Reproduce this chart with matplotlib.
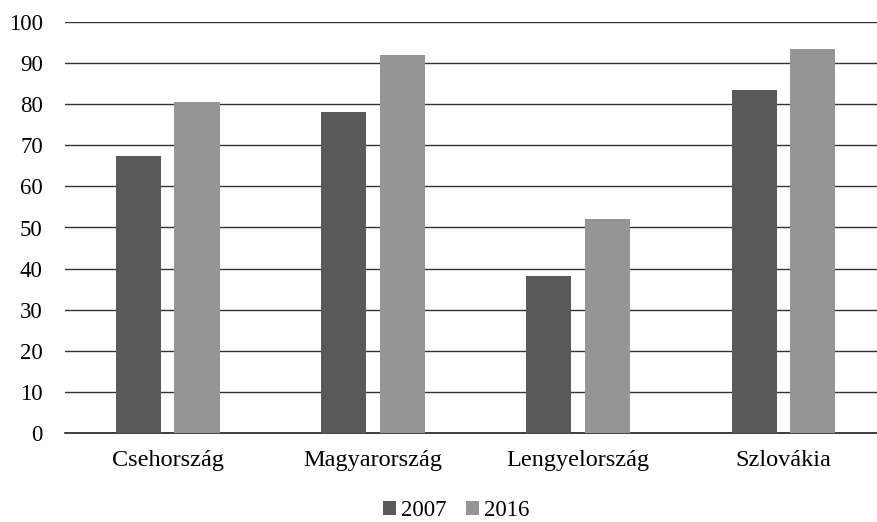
import matplotlib.pyplot as plt
import numpy as np

categories = ["Csehország", "Magyarország", "Lengyelország", "Szlovákia"]
values_2007 = [67.3, 78.2, 38.3, 83.4]
values_2016 = [80.6, 92.0, 52.0, 93.5]
yticks = [0, 10, 20, 30, 40, 50, 60, 70, 80, 90, 100]

plt.rcParams['font.family'] = ['Liberation Serif', 'DejaVu Serif']

W, H = 877, 522
FS = 16.5
fig = plt.figure(figsize=(W / 100, H / 100), dpi=100)
ax = fig.add_axes([65 / W, (H - 433) / H, (W - 65) / W, (433 - 22) / H])

x = np.arange(len(categories))
bw = 0.22
off = 0.143
ax.bar(x - off, values_2007, bw, color='#595959', label='2007', zorder=3)
ax.bar(x + off, values_2016, bw, color='#949599', label='2016', zorder=3)

ax.set_ylim(0, 100)
ax.set_xlim(-0.5, -0.5 + 812 / 205.3)
ax.set_yticks(yticks)
ax.set_xticks(x)
ax.set_xticklabels(categories)
ax.yaxis.grid(True, color='#333333', linewidth=1.0, zorder=0)
ax.set_axisbelow(True)

for s in ['top', 'right', 'left']:
    ax.spines[s].set_visible(False)
ax.spines['bottom'].set_color('#222222')
ax.spines['bottom'].set_linewidth(1.2)
ax.tick_params(axis='y', length=0, pad=16, labelsize=FS)
ax.tick_params(axis='x', length=0, pad=12, labelsize=17.5)

ax.legend(loc='center', bbox_to_anchor=(456 / W, (H - 511) / H), bbox_transform=fig.transFigure,
          ncol=2, frameon=False, fontsize=FS, handlelength=0.57, handleheight=0.57,
          handletextpad=0.22, columnspacing=0.83, borderaxespad=0, borderpad=0)

fig.savefig("out.png", dpi=100)
